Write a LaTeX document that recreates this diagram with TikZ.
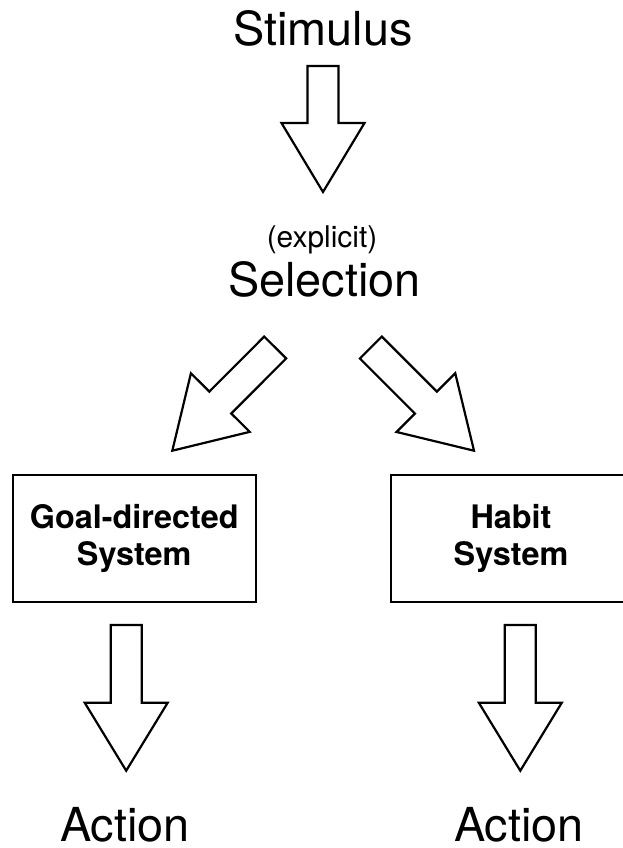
\documentclass[tikz,border=0pt]{standalone}
\usepackage{fontspec}
\setmainfont{TeX Gyre Heros}
\usetikzlibrary{calc}
\tikzset{
  big/.style={font=\fontsize{47}{50}\selectfont, anchor=base, inner sep=0pt},
  small/.style={font=\fontsize{30}{32}\selectfont, anchor=base, inner sep=0pt},
  sysbox/.style={draw=black, line width=2.2bp, minimum height=126.7bp,
    align=center, inner sep=0pt, font=\fontsize{32.5}{37}\selectfont\bfseries},
  fat/.style={draw=black, fill=white, line width=2.2bp, line join=miter,
    to path={
      ($(\tikztostart)!15.5bp!90:(\tikztotarget)$)
      -- ($($(\tikztotarget)!#1!(\tikztostart)$)!15.5bp!90:(\tikztotarget)$)
      -- ($($(\tikztotarget)!#1!(\tikztostart)$)!41.5bp!90:(\tikztotarget)$)
      -- (\tikztotarget)
      -- ($($(\tikztotarget)!#1!(\tikztostart)$)!41.5bp!-90:(\tikztotarget)$)
      -- ($($(\tikztotarget)!#1!(\tikztostart)$)!15.5bp!-90:(\tikztotarget)$)
      -- ($(\tikztostart)!15.5bp!-90:(\tikztotarget)$)
      -- cycle}},
  fat/.default=68bp
}
\begin{document}
\begin{tikzpicture}[x=1bp, y=-1bp]
\clip (0,0) rectangle (623,848);
\fill[white] (0,0) rectangle (623,848);

\node[big] (stim) at (323,45.5) {Stimulus};
\node[small] (expl) at (322,247) {(explicit)};
\node[big] (sel) at (324.5,296) {Selection};

\node[sysbox, minimum width=243bp] (goal) at (134.2,538.3) {Goal-directed\\System};
\node[sysbox, minimum width=239.5bp] (habit) at (511,538.3) {Habit\\System};

\node[big] (act1) at (125,841) {Action};
\node[big] (act2) at (519,841) {Action};

\coordinate (s0) at (323,66);
\coordinate (t0) at (323,192);
\coordinate (s1) at (275.2,347.5);
\coordinate (t1) at (172.3,450.7);
\coordinate (s2) at (370.8,347.5);
\coordinate (t2) at (474,450.7);
\coordinate (s3) at (126.2,625);
\coordinate (t3) at (126.2,770.7);
\coordinate (s4) at (520.3,625);
\coordinate (t4) at (520.3,770.7);

\draw[fat=69bp] (s0) to (t0);
\draw[fat] (s1) to (t1);
\draw[fat] (s2) to (t2);
\draw[fat] (s3) to (t3);
\draw[fat] (s4) to (t4);
\end{tikzpicture}
\end{document}
